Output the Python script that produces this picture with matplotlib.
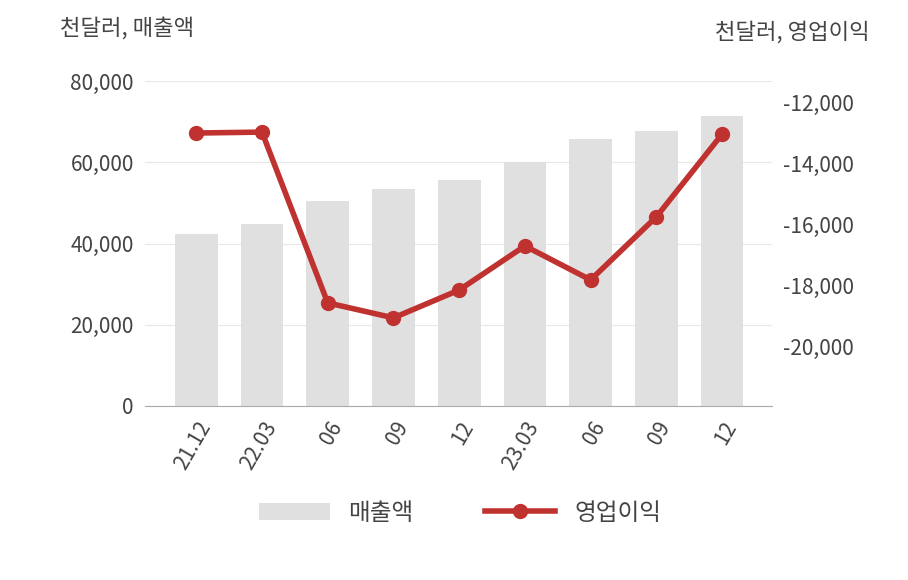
import numpy as np
import matplotlib
matplotlib.use("Agg")
from matplotlib import pyplot as plt

plt.rcParams["font.family"] = ["Noto Sans CJK KR", "DejaVu Sans"]

labels = ["21.12", "22.03", "06", "09", "12", "23.03", "06", "09", "12"]
sales = [42300, 44800, 50500, 53400, 55600, 60100, 65700, 67700, 71400]
op_income = [-13010, -12980, -18560, -19050, -18140, -16700, -17810, -15750, -13050]

fig = plt.figure(figsize=(9.08, 5.8), dpi=100)
ax = fig.add_axes([145 / 908, 1 - 406 / 580, 627 / 908, 325 / 580])
x = np.arange(len(labels))
ax.bar(x, sales, width=0.65, color="#e0e0e0", label="매출액", zorder=2)
ax.set_ylim(0, 80000)
ax.set_xlim(-0.78, len(labels) - 0.24)
ax.set_yticks(range(0, 80001, 20000))
ax.set_yticklabels([f"{v:,}" for v in range(0, 80001, 20000)])
ax.grid(axis="y", color="#e8e8e8", lw=0.8, zorder=0)
for s in ["top", "right", "left"]:
    ax.spines[s].set_visible(False)
ax.spines["bottom"].set_color("#aaaaaa")
ax.set_xticks(x)
ax.set_xticklabels(labels, rotation=60, ha="right", rotation_mode="anchor")
ax.tick_params(axis="both", length=0, labelsize=15, colors="#444444", pad=8)

ax2 = ax.twinx()
ax2.plot(x, op_income, color="#c0322f", lw=4, marker="o", ms=10, label="영업이익", zorder=3)
ax2.set_ylim(-21930, -11310)
ticks = list(range(-20000, -11999, 2000))
ax2.set_yticks(ticks)
ax2.set_yticklabels([f"{v:,}" for v in ticks])
for s in ["top", "right", "left", "bottom"]:
    ax2.spines[s].set_visible(False)
ax2.tick_params(axis="y", length=0, labelsize=15, colors="#444444", pad=8)

fig.text(60 / 908, 1 - 28 / 580, "천달러, 매출액", fontsize=16, color="#444444", va="center")
fig.text(870 / 908, 1 - 32 / 580, "천달러, 영업이익", fontsize=16, color="#444444", va="center", ha="right")

h1, l1 = ax.get_legend_handles_labels()
h2, l2 = ax2.get_legend_handles_labels()
fig.legend(h1 + h2, l1 + l2, loc="center", bbox_to_anchor=(460 / 908, 1 - 513 / 580),
           ncol=2, frameon=False, fontsize=17, handlelength=3, columnspacing=3,
           labelcolor="#444444")

fig.savefig("out.png", dpi=100)
